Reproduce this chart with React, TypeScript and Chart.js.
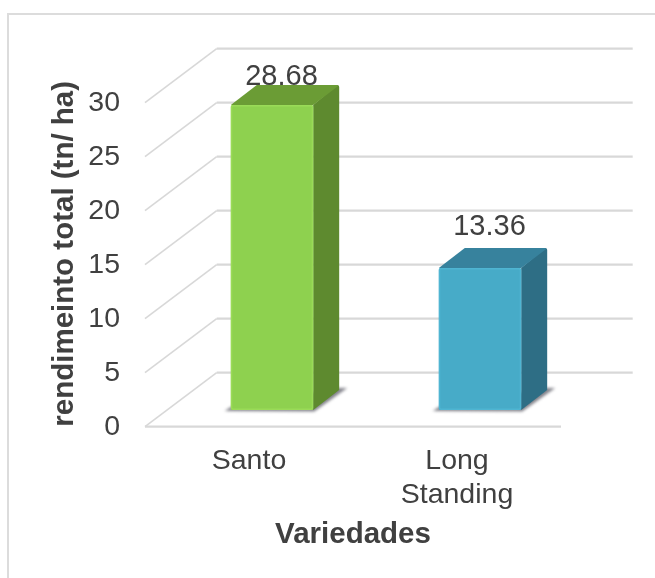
import React, { useEffect, useRef } from "react";
import { Chart, registerables } from "chart.js";

Chart.register(...registerables);

const categories = ["Santo", ["Long", "Standing"]];
const rendimiento = [28.68, 13.36];
const frontColors = ["#8ED14F", "#47ABC8"];
const rimColors = ["#9ADB58", "#4FB5D2"];
const sideColors = ["#5E8A2F", "#2E6E85"];
const topColors = ["#6B9C35", "#37829D"];
const yAxisTitle = "rendimeinto total (tn/ ha)";
const xAxisTitle = "Variedades";

const FONT = "'Liberation Sans', Arial, sans-serif";
const TEXT = "#404040";
const GRID = "#D8D8D8";
const WALL_DX = 71.7;
const WALL_DY = 54;
const BAR_SHIFT_X = 23;
const BAR_SHIFT_Y = 16.7;
const BOX_DX = 26;
const BOX_DY = 20;
const HEIGHT_FACTOR = 0.985;
const LABEL_LIFT = [20, 33];

const scene = {
  id: "scene",
  beforeDraw(chart: any) {
    const { ctx, width, height } = chart;
    ctx.save();
    ctx.fillStyle = "#fff";
    ctx.fillRect(0, 0, width, height);
    ctx.strokeStyle = "#DCDCDC";
    ctx.lineWidth = 2;
    ctx.beginPath();
    ctx.moveTo(8, height);
    ctx.lineTo(8, 14);
    ctx.lineTo(width, 14);
    ctx.stroke();
    ctx.restore();
  },
  beforeDatasetsDraw(chart: any) {
    const { ctx, chartArea, scales } = chart;
    const y = scales.y;
    ctx.save();
    ctx.strokeStyle = GRID;
    y.ticks.forEach((t: any) => {
      const py = y.getPixelForValue(t.value);
      ctx.lineWidth = 1.6;
      ctx.beginPath();
      ctx.moveTo(chartArea.left, py);
      ctx.lineTo(chartArea.left + WALL_DX, py - WALL_DY);
      ctx.stroke();
      ctx.lineWidth = 2.2;
      ctx.beginPath();
      ctx.moveTo(chartArea.left + WALL_DX, py - WALL_DY);
      ctx.lineTo(chartArea.right + WALL_DX, py - WALL_DY);
      ctx.stroke();
    });
    const p0 = y.getPixelForValue(0);
    ctx.lineWidth = 2.2;
    ctx.beginPath();
    ctx.moveTo(chartArea.left, p0);
    ctx.lineTo(chartArea.right, p0);
    ctx.stroke();
    ctx.restore();
  },
  beforeDatasetDraw() {
    return false;
  },
  afterDatasetsDraw(chart: any) {
    const { ctx } = chart;
    const meta = chart.getDatasetMeta(0);
    const values = chart.data.datasets[0].data;
    meta.data.forEach((bar: any, i: number) => {
      const p = bar.getProps(["x", "y", "base", "width"], true);
      const x0 = p.x - p.width / 2 + BAR_SHIFT_X;
      const x1 = p.x + p.width / 2 + BAR_SHIFT_X;
      const yb = p.base - BAR_SHIFT_Y;
      const yt = yb - (p.base - p.y) * HEIGHT_FACTOR;
      ctx.save();

      // cast shadow
      ctx.filter = "blur(1.5px)";
      ctx.fillStyle = "rgba(90,90,100,0.75)";
      ctx.beginPath();
      ctx.moveTo(x0 - 6, yb + 1);
      ctx.lineTo(x0, yb - 3);
      ctx.lineTo(x1 + BOX_DX, yb - BOX_DY - 2);
      ctx.lineTo(x1 + BOX_DX + 8, yb - BOX_DY - 2);
      ctx.lineTo(x1 + 1, yb + 1.5);
      ctx.closePath();
      ctx.fill();
      ctx.filter = "none";

      // side
      ctx.fillStyle = sideColors[i];
      ctx.beginPath();
      ctx.moveTo(x1, yt);
      ctx.lineTo(x1 + BOX_DX - 2, yt - BOX_DY);
      ctx.quadraticCurveTo(x1 + BOX_DX, yt - BOX_DY, x1 + BOX_DX, yt - BOX_DY + 2);
      ctx.lineTo(x1 + BOX_DX, yb - BOX_DY);
      ctx.lineTo(x1, yb);
      ctx.closePath();
      ctx.fill();

      // top
      ctx.fillStyle = topColors[i];
      ctx.beginPath();
      ctx.moveTo(x0, yt);
      ctx.lineTo(x0 + BOX_DX, yt - BOX_DY);
      ctx.lineTo(x1 + BOX_DX - 2, yt - BOX_DY);
      ctx.lineTo(x1 + BOX_DX - 1, yt - BOX_DY + 1);
      ctx.lineTo(x1, yt);
      ctx.closePath();
      ctx.fill();

      // front
      ctx.fillStyle = frontColors[i];
      ctx.beginPath();
      ctx.roundRect(x0, yt, x1 - x0, yb - yt, 1.5);
      ctx.fill();
      ctx.strokeStyle = rimColors[i];
      ctx.lineWidth = 1.5;
      ctx.beginPath();
      ctx.roundRect(x0 + 0.75, yt + 0.75, x1 - x0 - 1.5, yb - yt - 1.5, 1.5);
      ctx.stroke();

      // value label
      ctx.fillStyle = TEXT;
      ctx.font = `29px ${FONT}`;
      ctx.textAlign = "center";
      ctx.textBaseline = "alphabetic";
      ctx.fillText(Number(values[i]).toFixed(2), (x0 + x1) / 2 + BOX_DX / 2 - 3.5, yt - LABEL_LIFT[i]);
      ctx.restore();
    });
  },
};

export default function App() {
  const ref = useRef<HTMLCanvasElement | null>(null);
  useEffect(() => {
    if (!ref.current) return;
    const chart = new Chart(ref.current, {
      type: "bar",
      data: {
        labels: categories as any,
        datasets: [
          {
            label: "rendimiento total",
            data: rendimiento,
            backgroundColor: frontColors,
            barPercentage: 0.396,
            categoryPercentage: 1,
          },
        ],
      },
      options: {
        responsive: false,
        animation: false,
        layout: { padding: { top: 102.7, right: 94, left: 0, bottom: 0 } },
        plugins: { legend: { display: false }, tooltip: { enabled: false } },
        scales: {
          x: {
            grid: { display: false, drawTicks: false },
            border: { display: false },
            afterFit: (s: any) => {
              s.height = 151.3;
            },
            ticks: {
              color: TEXT,
              padding: 17,
              maxRotation: 0,
              autoSkip: false,
              font: { family: FONT, size: 28.5, lineHeight: 1.2 },
            },
            title: {
              display: true,
              text: xAxisTitle,
              color: TEXT,
              font: { family: FONT, size: 29.5, weight: "bold" },
              padding: { top: 0, bottom: 25 },
            },
          },
          y: {
            min: 0,
            max: 30,
            grid: { display: false, drawTicks: false },
            border: { display: false },
            afterFit: (s: any) => {
              s.width = 145;
            },
            ticks: {
              stepSize: 5,
              color: TEXT,
              padding: 25,
              font: { family: FONT, size: 28.5 },
            },
            title: {
              display: true,
              text: yAxisTitle,
              align: "start",
              color: TEXT,
              font: { family: FONT, size: 29.5, weight: "bold" },
              padding: { top: 47, bottom: 0 },
            },
          },
        },
      },
      plugins: [scene],
    } as any);
    return () => chart.destroy();
  }, []);
  return (
    <canvas
      ref={ref}
      width={655}
      height={578}
      style={{ position: "fixed", left: 0, top: 0, width: 655, height: 578, display: "block" }}
    />
  );
}
